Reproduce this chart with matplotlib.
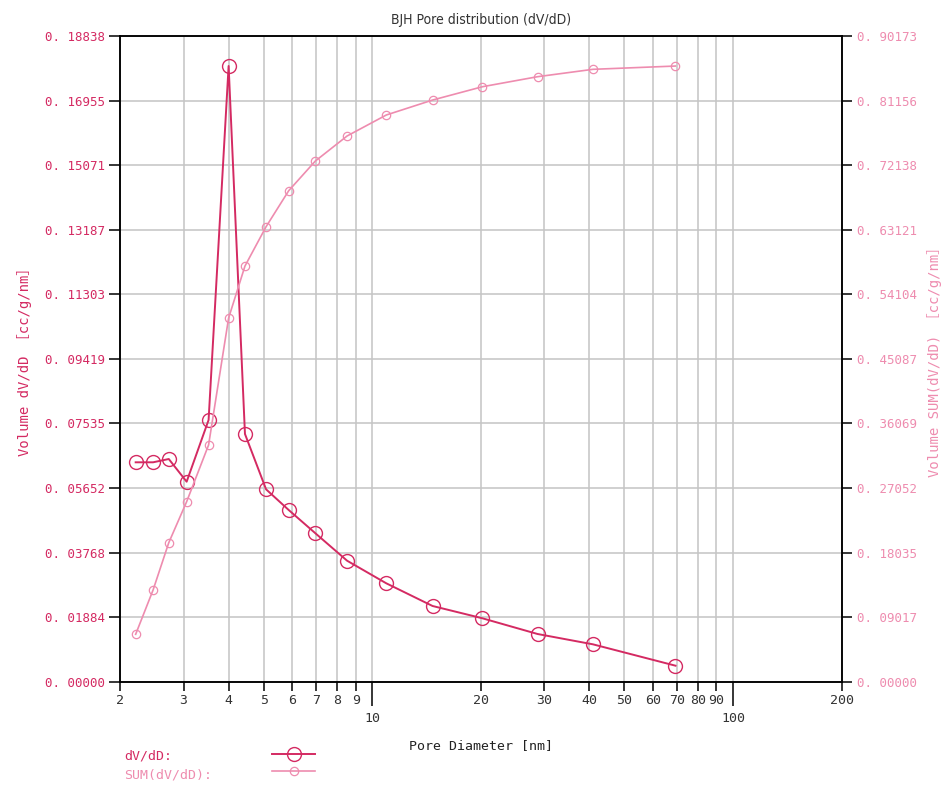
import numpy as np
import matplotlib
matplotlib.use('Agg')
import matplotlib.pyplot as plt
from matplotlib import font_manager
from matplotlib.lines import Line2D
from matplotlib.ticker import FixedLocator

# DATA =========================================================================
pore_diameter = [2.21, 2.47, 2.73, 3.06, 3.52, 4.00, 4.44, 5.08, 5.87, 6.96,
                 8.52, 10.94, 14.70, 20.21, 28.73, 40.9, 69.3]
dv_dd = [0.06401, 0.06401, 0.06497, 0.05835, 0.07635, 0.17963, 0.07227,
         0.05613, 0.05009, 0.04330, 0.03530, 0.02871, 0.02209, 0.01850,
         0.01392, 0.01091, 0.00467]
sum_dv_dd = [0.0662, 0.1281, 0.1941, 0.2514, 0.3306, 0.5079, 0.5805, 0.6354,
             0.6857, 0.7272, 0.7621, 0.7914, 0.8123, 0.8309, 0.8449, 0.8552,
             0.8598]

left_ticks = [0.0, 0.01884, 0.03768, 0.05652, 0.07535, 0.09419, 0.11303,
              0.13187, 0.15071, 0.16955, 0.18838]
right_ticks = [0.0, 0.09017, 0.18035, 0.27052, 0.36069, 0.45087, 0.54104,
               0.63121, 0.72138, 0.81156, 0.90173]
x_major = [10, 100]
x_minor = [2, 3, 4, 5, 6, 7, 8, 9, 20, 30, 40, 50, 60, 70, 80, 90, 200]

# STYLE ========================================================================
DV_COLOR = '#D42A62'
SUM_COLOR = '#EE8CAF'
GRID_COLOR = '#C4C4C4'
TEXT_DARK = '#333333'
MONO = ['DejaVu Sans Mono', 'Noto Sans CJK JP']

fonts = font_manager.fontManager.ttflist
if any(f.name == 'Liberation Sans Narrow' for f in fonts):
    title_font = dict(family='Liberation Sans Narrow', fontsize=12)
elif any(f.name == 'DejaVu Sans' and f.stretch == 'condensed' for f in fonts):
    title_font = dict(family='DejaVu Sans', fontstretch='condensed',
                      fontsize=10)
else:
    title_font = dict(family='Liberation Sans', fontsize=10)


def fmt(v):
    return '{0:.5f}'.format(v).replace('.', '. ')


# PLOT =========================================================================
fig = plt.figure(figsize=(9.48, 7.88), dpi=100)
ax = fig.add_axes([0.1266, 0.1349, 0.7611, 0.8194])
ax2 = ax.twinx()

ax.set_xscale('log')
ax.set_xlim(2, 200)
ax.set_ylim(0, left_ticks[-1])
ax2.set_ylim(0, right_ticks[-1])

ax.xaxis.set_major_locator(FixedLocator(x_major))
ax.xaxis.set_minor_locator(FixedLocator(x_minor))
ax.set_xticklabels([str(v) for v in x_major], family=MONO, fontsize=9.5,
                   color=TEXT_DARK)
ax.set_xticklabels([str(v) for v in x_minor], minor=True,
                   family=MONO, fontsize=9.5, color=TEXT_DARK)
ax.tick_params(axis='x', which='major', length=17, width=1.1, pad=5)
ax.tick_params(axis='x', which='minor', length=6.5, width=1.1, pad=2.5)

ax.set_yticks(left_ticks)
ax.set_yticklabels([fmt(v) for v in left_ticks], family=MONO,
                   fontsize=9, color=DV_COLOR)
ax.tick_params(axis='y', length=8, width=1.1, pad=3)
ax2.set_yticks(right_ticks)
ax2.set_yticklabels([fmt(v) for v in right_ticks], family=MONO,
                    fontsize=9, color=SUM_COLOR)
ax2.tick_params(axis='y', length=7.5, width=1.1, pad=3.5)

ax.grid(which='both', axis='x', color=GRID_COLOR, linewidth=1.1)
ax.grid(which='major', axis='y', color=GRID_COLOR, linewidth=1.1)
ax.set_axisbelow(True)
for a in (ax, ax2):
    for s in a.spines.values():
        s.set_linewidth(1.1)
        s.set_color('black')

ax.plot(pore_diameter, dv_dd, color=DV_COLOR, linewidth=1.4, marker='o',
        markersize=10, markerfacecolor='none', markeredgecolor=DV_COLOR,
        markeredgewidth=1.0, zorder=4)
ax2.plot(pore_diameter, sum_dv_dd, color=SUM_COLOR, linewidth=1.2, marker='o',
         markersize=6, markerfacecolor='none', markeredgecolor=SUM_COLOR,
         markeredgewidth=0.9, zorder=3)

ax.set_title('BJH Pore distribution (dV/dD)', pad=9, color=TEXT_DARK,
             **title_font)
ax.set_xlabel('Pore Diameter [nm]', family=MONO, fontsize=9.5,
              labelpad=10, color='#222222')
ax.set_ylabel('Volume dV/dD ［cc/g/nm］', family=MONO, fontsize=10,
              color=DV_COLOR, labelpad=9)
ax2.set_ylabel('Volume SUM(dV/dD) ［cc/g/nm］', family=MONO, fontsize=10,
               color=SUM_COLOR, labelpad=7)

# legend (labels left, samples right) ===========================================
fig.text(124 / 948, 1 - 756 / 788, 'dV/dD:', family=MONO, fontsize=9.5,
         color=DV_COLOR, va='center')
fig.text(124 / 948, 1 - 775 / 788, 'SUM(dV/dD):', family=MONO,
         fontsize=9.5, color=SUM_COLOR, va='center')
fig.add_artist(Line2D([272 / 948, 315 / 948], [1 - 754 / 788] * 2,
                      transform=fig.transFigure, color=DV_COLOR, linewidth=1.4))
fig.add_artist(Line2D([293.5 / 948], [1 - 754 / 788], transform=fig.transFigure,
                      marker='o', markersize=10, markerfacecolor='none',
                      markeredgecolor=DV_COLOR, markeredgewidth=1.0))
fig.add_artist(Line2D([272 / 948, 315 / 948], [1 - 771 / 788] * 2,
                      transform=fig.transFigure, color=SUM_COLOR, linewidth=1.2))
fig.add_artist(Line2D([293.5 / 948], [1 - 771 / 788], transform=fig.transFigure,
                      marker='o', markersize=6, markerfacecolor='none',
                      markeredgecolor=SUM_COLOR, markeredgewidth=0.9))

fig.savefig('out.png', dpi=100)
